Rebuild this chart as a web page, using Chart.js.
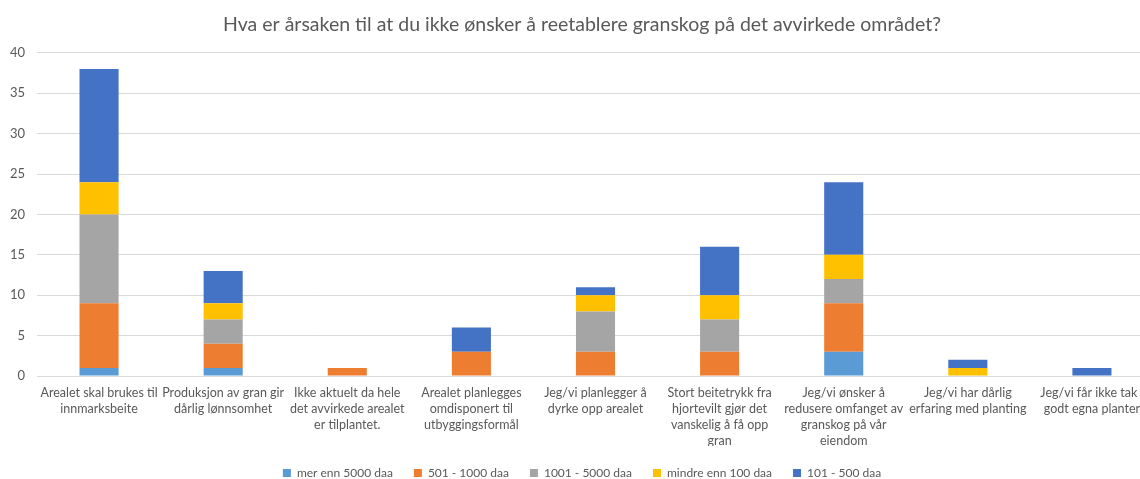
<!DOCTYPE html>
<html>
<head>
<meta charset="utf-8">
<script src="https://cdn.jsdelivr.net/npm/chart.js@4/dist/chart.umd.min.js"></script>
<style>
  html, body { margin: 0; padding: 0; overflow: hidden; background: #fff; height: 479px; }
  #wrap { width: 1168px; height: 489px; position: relative; }
</style>
</head>
<body>
<div id="wrap"><canvas id="c"></canvas></div>
<script>
const categories = [
  ["Arealet skal brukes til", "innmarksbeite"],
  ["Produksjon av gran gir", "dårlig lønnsomhet"],
  ["Ikke aktuelt da hele", "det avvirkede arealet", "er tilplantet."],
  ["Arealet planlegges", "omdisponert til", "utbyggingsformål"],
  ["Jeg/vi planlegger å", "dyrke opp arealet"],
  ["Stort beitetrykk fra", "hjortevilt gjør det", "vanskelig å få opp", "gran"],
  ["Jeg/vi ønsker å", "redusere omfanget av", "granskog på vår", "eiendom"],
  ["Jeg/vi har dårlig", "erfaring med planting"],
  ["Jeg/vi får ikke tak i", "godt egna planter"]
];
const over5000   = [1, 1, 0, 0, 0, 0, 3, 0, 0];
const s501_1000  = [8, 3, 1, 3, 3, 3, 6, 0, 0];
const s1001_5000 = [11, 3, 0, 0, 5, 4, 3, 0, 0];
const under100   = [4, 2, 0, 0, 2, 3, 3, 1, 0];
const s101_500   = [14, 4, 0, 3, 1, 6, 9, 1, 1];
const seriesNames = ["mer enn 5000 daa", "501 - 1000 daa", "1001 - 5000 daa", "mindre enn 100 daa", "101 - 500 daa"];
const colors = ["#5B9BD5", "#ED7D31", "#A5A5A5", "#FFC000", "#4472C4"];
const yTicks = [0, 5, 10, 15, 20, 25, 30, 35, 40];

const values = [over5000, s501_1000, s1001_5000, under100, s101_500];
const ctx = document.getElementById('c');
const font = "Lato, 'Liberation Sans', sans-serif";

new Chart(ctx, {
  type: 'bar',
  data: {
    labels: categories,
    datasets: values.map((v, i) => ({
      label: seriesNames[i],
      data: v,
      backgroundColor: colors[i],
      borderWidth: 0,
      barPercentage: 0.63,
      categoryPercentage: 0.5
    }))
  },
  options: {
    responsive: true,
    maintainAspectRatio: false,
    animation: false,
    layout: { padding: { left: 10, right: 14, top: 3, bottom: 0 } },
    plugins: {
      title: {
        display: true,
        text: 'Hva er årsaken til at du ikke ønsker å reetablere granskog på det avvirkede området?',
        color: '#595959',
        font: { family: font, size: 19.5, weight: 'normal' },
        padding: { top: 10, bottom: 16.5 }
      },
      legend: {
        position: 'bottom',
        labels: {
          color: '#595959',
          font: { family: font, size: 12 },
          boxWidth: 8,
          boxHeight: 8,
          padding: 21
        }
      },
      tooltip: { enabled: false }
    },
    scales: {
      x: {
        stacked: true,
        grid: { display: false, drawTicks: false },
        border: { color: '#d9d9d9' },
        afterFit: s => { s.height = 70; },
        ticks: {
          color: '#595959',
          font: { family: font, size: 12.5, lineHeight: 1.28 },
          maxRotation: 0,
          autoSkip: false,
          padding: 9
        }
      },
      y: {
        stacked: true,
        min: 0,
        max: 40,
        afterBuildTicks: s => { s.ticks = yTicks.map(v => ({ value: v })); },
        afterFit: s => { s.width = 27; },
        grid: { color: '#d9d9d9', drawTicks: false },
        border: { display: false },
        ticks: {
          color: '#595959',
          font: { family: font, size: 13 },
          padding: 12
        }
      }
    }
  }
});
</script>
</body>
</html>
